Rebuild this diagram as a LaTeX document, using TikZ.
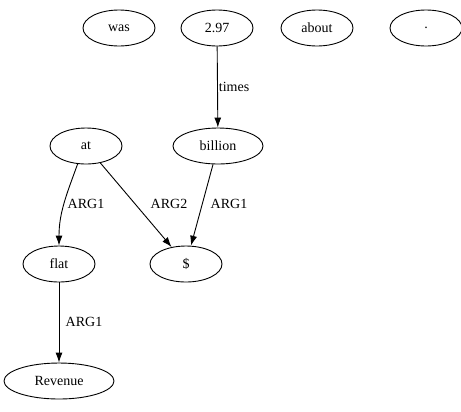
\documentclass[tikz,border=0pt]{standalone}
\usepackage{fontspec}
\setmainfont{Liberation Serif}
\usetikzlibrary{positioning, shapes.geometric, arrows.meta}
\tikzset{
    word/.style={
        draw, ellipse, line width = 0.9bp,
        minimum width = 72bp,
        minimum height = 36bp,
        inner sep = 1bp,
        font = \fontsize{14bp}{16bp}\selectfont
    },
    lbl/.style = {font = \fontsize{14bp}{16bp}\selectfont, inner sep = 1bp},
    line/.style = {-{Latex[length=10bp, width=7bp]}, line width = 0.9bp}
}
\begin{document}
\begin{tikzpicture}[x=1bp, y=-1bp]

    \useasboundingbox (0,0) rectangle (461,411);

    % Top row
    \node[word] (was) at (119,28) {was};
    \node[word] (num) at (217,28) {2.97};
    \node[word] (about) at (317,28) {about};
    \node[word] (dot) at (426,28) {.};

    % Middle row
    \node[word] (at) at (86,146) {at};
    \node[word, minimum width = 90bp] (billion) at (218,146) {billion};

    % Lower rows
    \node[word] (flat) at (59,264) {flat};
    \node[word] (dollar) at (186,264) {\$};
    \node[word, minimum width = 110bp] (revenue) at (59,381) {Revenue};

    % Edges
    \draw[line] (num) -- (billion) node[lbl, midway, right] {times};
    \draw[line] (at.-115) to[out=-110, in=90] (flat.north);
    \node[lbl] (arg1a) at (86,204) {ARG1};
    \draw[line] (at) -- (dollar);
    \node[lbl] (arg2) at (169,204) {ARG2};
    \draw[line] (billion) -- (dollar);
    \node[lbl] (arg1b) at (229,204) {ARG1};
    \draw[line] (flat) -- (revenue);
    \node[lbl] (arg1c) at (84,322) {ARG1};

\end{tikzpicture}
\end{document}
